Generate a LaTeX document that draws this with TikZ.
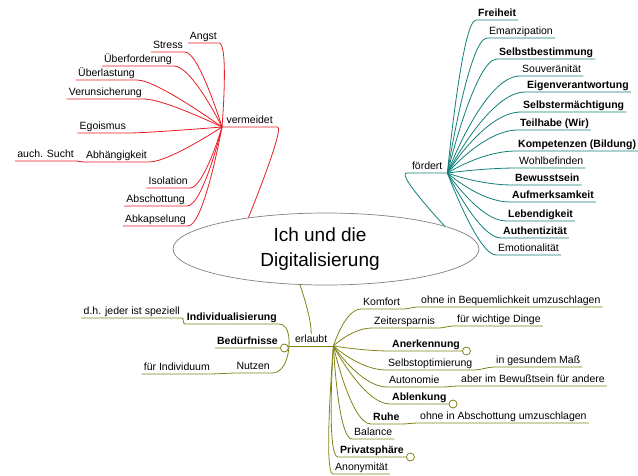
\documentclass[tikz,border=0pt]{standalone}
\usepackage{fontspec}
\setmainfont{Liberation Sans}
\usetikzlibrary{shapes.geometric}
\definecolor{vmred}{RGB}{232,28,36}
\definecolor{fdteal}{RGB}{16,128,120}
\definecolor{elolive}{RGB}{130,130,24}
\definecolor{rootgray}{RGB}{128,128,128}

\begin{document}
\begin{tikzpicture}[x=1pt, y=-1pt,
  lf/.style={inner xsep=2pt, inner ysep=0pt, text height=8pt, text depth=3.8pt, font=\fontsize{10.5}{12}\selectfont},
  lfb/.style={lf, font=\fontsize{10.5}{12}\selectfont\bfseries},
  hb/.style={lf, inner xsep=0pt},
  vm/.style={draw=vmred, line width=0.8pt},
  fd/.style={draw=fdteal, line width=0.8pt},
  el/.style={draw=elolive, line width=0.8pt},
  fold/.style={circle, draw=elolive, line width=0.8pt, fill=white, inner sep=0pt, minimum size=8pt, anchor=west}]
\useasboundingbox (0,0) rectangle (638,475);
\node[ellipse, draw=rootgray, line width=0.7pt, minimum width=306pt, minimum height=72pt, inner sep=0pt, align=center, font=\fontsize{19}{25}\selectfont] (R) at (326,249) {Ich und die\hspace*{12pt}\\Digitalisierung\hspace*{12pt}};

\node[hb, minimum width=55pt, anchor=south west] (V) at (222,127) {vermeidet};
\node[lf, anchor=south east] (V1) at (219,43) {Angst};
\node[lf, anchor=south east] (V2) at (185,52) {Stress};
\node[lf, anchor=south east] (V3) at (174,66) {Überforderung};
\node[lf, anchor=south east] (V4) at (137,80) {Überlastung};
\node[lf, anchor=south east] (V5) at (144,99) {Verunsicherung};
\node[lf, anchor=south east] (V6) at (128,133) {Egoismus};
\node[lf, anchor=south east] (V7) at (149,162) {Abhängigkeit};
\node[lf, anchor=south east] (V7a) at (76,161) {auch. Sucht};
\node[lf, anchor=south east] (V8) at (190,188) {Isolation};
\node[lf, anchor=south east] (V9) at (187,206) {Abschottung};
\node[lf, anchor=south east] (V10) at (188,226) {Abkapselung};

\node[hb, minimum width=40pt, anchor=south west] (F) at (407,173) {fördert};
\node[lfb, anchor=south west] (F1) at (476,20) {Freiheit};
\node[lf, anchor=south west] (F2) at (487,38) {Emanzipation};
\node[lfb, anchor=south west] (F3) at (497,59) {Selbstbestimmung};
\node[lf, anchor=south west] (F4) at (520,76) {Souveränität};
\node[lfb, anchor=south west] (F5) at (525,92) {Eigenverantwortung};
\node[lfb, anchor=south west] (F6) at (521,112) {Selbstermächtigung};
\node[lfb, anchor=south west] (F7) at (518,130) {Teilhabe (Wir)};
\node[lfb, anchor=south west] (F8) at (516,151) {Kompetenzen (Bildung)};
\node[lf, anchor=south west] (F9) at (517,168) {Wohlbefinden};
\node[lfb, anchor=south west] (F10) at (513,185) {Bewusstsein};
\node[lfb, anchor=south west] (F11) at (510,202) {Aufmerksamkeit};
\node[lfb, anchor=south west] (F12) at (506,221) {Lebendigkeit};
\node[lfb, anchor=south west] (F13) at (501,238) {Authentizität};
\node[lf, anchor=south west] (F14) at (496,255) {Emotionalität};

\node[hb, minimum width=44pt, anchor=south west] (E) at (289,346) {erlaubt};
\node[lfb, anchor=south east] (L1) at (279,324) {Individualisierung};
\node[lf, anchor=south east] (L1a) at (182,318) {d.h. jeder ist speziell};
\node[lfb, anchor=south east] (L2) at (280,348) {Bedürfnisse};
\node[lf, anchor=south east] (L3) at (272,373) {Nutzen};
\node[lf, anchor=south east] (L3a) at (212,374) {für Individuum};
\node[lf, anchor=south west] (E1) at (361,309) {Komfort};
\node[lf, anchor=south west] (E1a) at (419,307) {ohne in Bequemlichkeit umzuschlagen};
\node[lf, anchor=south west] (E2) at (372,328) {Zeitersparnis};
\node[lf, anchor=south west] (E2a) at (455,326) {für wichtige Dinge};
\node[lfb, anchor=south west] (E3) at (390,351) {Anerkennung};
\node[lf, anchor=south west] (E4) at (386,370) {Selbstoptimierung};
\node[lf, anchor=south west] (E4a) at (494,367) {in gesundem Maß};
\node[lf, anchor=south west] (E5) at (387,387) {Autonomie};
\node[lf, anchor=south west] (E5a) at (459,386) {aber im Bewußtsein für andere};
\node[lfb, anchor=south west] (E6) at (390,404) {Ablenkung};
\node[lfb, anchor=south west] (E7) at (371,424) {Ruhe};
\node[lf, anchor=south west] (E7a) at (418,423) {ohne in Abschottung umzuschlagen};
\node[lf, anchor=south west] (E8) at (352,439) {Balance};
\node[lfb, anchor=south west] (E9) at (338,457) {Privatsphäre};
\node[lf, anchor=south west] (E10) at (333,474) {Anonymität};

\draw[vm] (R.158) .. controls +(0,0) and +(8,0) .. (V.south east) -- (V.south west);
\draw[vm] (V.south west) .. controls +(0,0) and +(10,0) .. (V1.south east) -- (V1.south west);
\draw[vm] (V.south west) .. controls +(0,0) and +(14,0) .. (V2.south east) -- (V2.south west);
\draw[vm] (V.south west) .. controls +(0,0) and +(18,0) .. (V3.south east) -- (V3.south west);
\draw[vm] (V.south west) .. controls +(0,0) and +(20,0) .. (V4.south east) -- (V4.south west);
\draw[vm] (V.south west) .. controls +(0,0) and +(20,0) .. (V5.south east) -- (V5.south west);
\draw[vm] (V.south west) .. controls +(0,0) and +(20,0) .. (V6.south east) -- (V6.south west);
\draw[vm] (V.south west) .. controls +(0,0) and +(20,0) .. (V7.south east) -- (V7.south west);
\draw[vm] (V7.south west) -- (V7a.south east) -- (V7a.south west);
\draw[vm] (V.south west) .. controls +(0,0) and +(14,0) .. (V8.south east) -- (V8.south west);
\draw[vm] (V.south west) .. controls +(0,0) and +(16,0) .. (V9.south east) -- (V9.south west);
\draw[vm] (V.south west) .. controls +(0,0) and +(16,0) .. (V10.south east) -- (V10.south west);

\draw[fd] (R.11) .. controls +(0,0) and +(-12,0) .. (F.south west) -- (F.south east);
\draw[fd] (F.south east) .. controls +(0,0) and +(-14,0) .. (F1.south west) -- (F1.south east);
\draw[fd] (F.south east) .. controls +(0,0) and +(-18,0) .. (F2.south west) -- (F2.south east);
\draw[fd] (F.south east) .. controls +(0,0) and +(-22,0) .. (F3.south west) -- (F3.south east);
\draw[fd] (F.south east) .. controls +(0,0) and +(-36,0) .. (F4.south west) -- (F4.south east);
\draw[fd] (F.south east) .. controls +(0,0) and +(-36,0) .. (F5.south west) -- (F5.south east);
\draw[fd] (F.south east) .. controls +(0,0) and +(-36,0) .. (F6.south west) -- (F6.south east);
\draw[fd] (F.south east) .. controls +(0,0) and +(-34,0) .. (F7.south west) -- (F7.south east);
\draw[fd] (F.south east) .. controls +(0,0) and +(-34,0) .. (F8.south west) -- (F8.south east);
\draw[fd] (F.south east) .. controls +(0,0) and +(-34,0) .. (F9.south west) -- (F9.south east);
\draw[fd] (F.south east) .. controls +(0,0) and +(-34,0) .. (F10.south west) -- (F10.south east);
\draw[fd] (F.south east) .. controls +(0,0) and +(-30,0) .. (F11.south west) -- (F11.south east);
\draw[fd] (F.south east) .. controls +(0,0) and +(-26,0) .. (F12.south west) -- (F12.south east);
\draw[fd] (F.south east) .. controls +(0,0) and +(-22,0) .. (F13.south west) -- (F13.south east);
\draw[fd] (F.south east) .. controls +(0,0) and +(-18,0) .. (F14.south west) -- (F14.south east);

\draw[el] (R.234) .. controls +(4,12) and +(0,-15) .. (E.north);
\draw[el] (E.south west) -- (E.south east);
\draw[el] (E.south west) .. controls +(0,0) and +(12,0) .. (L1.south east) -- (L1.south west);
\draw[el] (L1.south west) .. controls +(-2,0) and +(2,0) .. (L1a.south east) -- (L1a.south west);
\draw[el] (E.south west) -- (L2.south east) -- (L2.south west);
\draw[el] (E.south west) .. controls +(0,0) and +(16,0) .. (L3.south east) -- (L3.south west);
\draw[el] (L3.south west) -- (L3a.south east) -- (L3a.south west);
\draw[el] (E.south east) .. controls +(0,0) and +(-16,0) .. (E1.south west) -- (E1.south east);
\draw[el] (E1.south east) .. controls +(8,0) and +(-8,0) .. (E1a.south west) -- (E1a.south east);
\draw[el] (E.south east) .. controls +(0,0) and +(-20,0) .. (E2.south west) -- (E2.south east);
\draw[el] (E2.south east) .. controls +(8,0) and +(-8,0) .. (E2a.south west) -- (E2a.south east);
\draw[el] (E.south east) .. controls +(0,0) and +(-26,0) .. (E3.south west) -- (E3.south east);
\draw[el] (E.south east) .. controls +(0,0) and +(-26,0) .. (E4.south west) -- (E4.south east);
\draw[el] (E4.south east) .. controls +(6,0) and +(-6,0) .. (E4a.south west) -- (E4a.south east);
\draw[el] (E.south east) .. controls +(0,0) and +(-26,0) .. (E5.south west) -- (E5.south east);
\draw[el] (E5.south east) .. controls +(6,0) and +(-6,0) .. (E5a.south west) -- (E5a.south east);
\draw[el] (E.south east) .. controls +(0,0) and +(-26,0) .. (E6.south west) -- (E6.south east);
\draw[el] (E.south east) .. controls +(0,0) and +(-20,0) .. (E7.south west) -- (E7.south east);
\draw[el] (E7.south east) .. controls +(6,0) and +(-6,0) .. (E7a.south west) -- (E7a.south east);
\draw[el] (E.south east) .. controls +(0,0) and +(-14,0) .. (E8.south west) -- (E8.south east);
\draw[el] (E.south east) .. controls +(0,0) and +(-12,0) .. (E9.south west) -- (E9.south east);
\draw[el] (E.south east) .. controls +(0,0) and +(-10,0) .. (E10.south west) -- (E10.south east);
\node[fold] (L2f) at (L2.south east) {};
\node[fold] (E3f) at (E3.south east) {};
\node[fold] (E6f) at (E6.south east) {};
\node[fold] (E9f) at (E9.south east) {};
\end{tikzpicture}
\end{document}
